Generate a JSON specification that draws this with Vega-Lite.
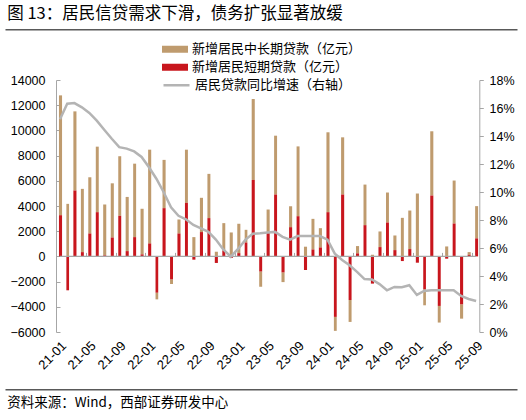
{
  "$schema": "https://vega.github.io/schema/vega-lite/v6.json",
  "width": 512,
  "height": 252,
  "autosize": {"type": "none"},
  "padding": {"left": 5, "top": 80, "right": 9, "bottom": 88},
  "background": "white",
  "config": {
    "view": {"stroke": null},
    "font": "Liberation Sans",
    "axis": {"grid": false, "labelColor": "#000000", "labelFont": "Liberation Sans"}
  },
  "data": {
    "values": [
      {"月份": "2021-01", "新增居民中长期贷款（亿元）": 9510, "新增居民短期贷款（亿元）": 3270, "增速": 15.2},
      {"月份": "2021-02", "新增居民中长期贷款（亿元）": 4170, "新增居民短期贷款（亿元）": -2690, "增速": 16.3},
      {"月份": "2021-03", "新增居民中长期贷款（亿元）": 6280, "新增居民短期贷款（亿元）": 5230, "增速": 16.35},
      {"月份": "2021-04", "新增居民中长期贷款（亿元）": 5020, "新增居民短期贷款（亿元）": 340, "增速": 16.05},
      {"月份": "2021-05", "新增居民中长期贷款（亿元）": 4460, "新增居民短期贷款（亿元）": 1820, "增速": 15.65},
      {"月份": "2021-06", "新增居民中长期贷款（亿元）": 5200, "新增居民短期贷款（亿元）": 3510, "增速": 15.1},
      {"月份": "2021-07", "新增居民中长期贷款（亿元）": 4040, "新增居民短期贷款（亿元）": 80, "增速": 14.45},
      {"月份": "2021-08", "新增居民中长期贷款（亿元）": 4300, "新增居民短期贷款（亿元）": 1500, "增速": 13.8},
      {"月份": "2021-09", "新增居民中长期贷款（亿元）": 4730, "新增居民短期贷款（亿元）": 3220, "增速": 13.2},
      {"月份": "2021-10", "新增居民中长期贷款（亿元）": 4300, "新增居民短期贷款（亿元）": 420, "增速": 13.1},
      {"月份": "2021-11", "新增居民中长期贷款（亿元）": 5830, "新增居民短期贷款（亿元）": 1530, "增速": 12.9},
      {"月份": "2021-12", "新增居民中长期贷款（亿元）": 3620, "新增居民短期贷款（亿元）": 160, "增速": 12.5},
      {"月份": "2022-01", "新增居民中长期贷款（亿元）": 7440, "新增居民短期贷款（亿元）": 1030, "增速": 11.75},
      {"月份": "2022-02", "新增居民中长期贷款（亿元）": -530, "新增居民短期贷款（亿元）": -2880, "增速": 10.95},
      {"月份": "2022-03", "新增居民中长期贷款（亿元）": 3830, "新增居民短期贷款（亿元）": 3830, "增速": 10.0},
      {"月份": "2022-04", "新增居民中长期贷款（亿元）": -370, "新增居民短期贷款（亿元）": -1820, "增速": 8.9},
      {"月份": "2022-05", "新增居民中长期贷款（亿元）": 1110, "新增居民短期贷款（亿元）": 1820, "增速": 8.3},
      {"月份": "2022-06", "新增居民中长期贷款（亿元）": 4220, "新增居民短期贷款（亿元）": 4250, "增速": 8.05},
      {"月份": "2022-07", "新增居民中长期贷款（亿元）": 1530, "新增居民短期贷款（亿元）": -260, "增速": 7.65},
      {"月份": "2022-08", "新增居民中长期贷款（亿元）": 2720, "新增居民短期贷款（亿元）": 1930, "增速": 7.4},
      {"月份": "2022-09", "新增居民中长期贷款（亿元）": 3510, "新增居民短期贷款（亿元）": 3040, "增速": 7.15},
      {"月份": "2022-10", "新增居民中长期贷款（亿元）": 370, "新增居民短期贷款（亿元）": -520, "增速": 6.6},
      {"月份": "2022-11", "新增居民中长期贷款（亿元）": 2170, "新增居民短期贷款（亿元）": 470, "增速": 5.9},
      {"月份": "2022-12", "新增居民中长期贷款（亿元）": 1900, "新增居民短期贷款（亿元）": -130, "增速": 5.38},
      {"月份": "2023-01", "新增居民中长期贷款（亿元）": 2330, "新增居民短期贷款（亿元）": 260, "增速": 5.95},
      {"月份": "2023-02", "新增居民中长期贷款（亿元）": 1010, "新增居民短期贷款（亿元）": 1100, "增速": 6.6},
      {"月份": "2023-03", "新增居民中长期贷款（亿元）": 6420, "新增居民短期贷款（亿元）": 6070, "增速": 7.02},
      {"月份": "2023-04", "新增居民中长期贷款（亿元）": -1210, "新增居民短期贷款（亿元）": -1190, "增速": 7.05},
      {"月份": "2023-05", "新增居民中长期贷款（亿元）": 1870, "新增居民短期贷款（亿元）": 1850, "增速": 7.1},
      {"月份": "2023-06", "新增居民中长期贷款（亿元）": 4670, "新增居民短期贷款（亿元）": 4910, "增速": 7.15},
      {"月份": "2023-07", "新增居民中长期贷款（亿元）": -770, "新增居民短期贷款（亿元）": -1270, "增速": 6.8},
      {"月份": "2023-08", "新增居民中长期贷款（亿元）": 1660, "新增居民短期贷款（亿元）": 2320, "增速": 6.6},
      {"月份": "2023-09", "新增居民中长期贷款（亿元）": 5540, "新增居民短期贷款（亿元）": 3190, "增速": 6.85},
      {"月份": "2023-10", "新增居民中长期贷款（亿元）": 770, "新增居民短期贷款（亿元）": -1080, "增速": 6.85},
      {"月份": "2023-11", "新增居民中长期贷款（亿元）": 2430, "新增居民短期贷款（亿元）": 550, "增速": 6.85},
      {"月份": "2023-12", "新增居民中长期贷款（亿元）": 1530, "新增居民短期贷款（亿元）": 710, "增速": 6.85},
      {"月份": "2024-01", "新增居民中长期贷款（亿元）": 6340, "新增居民短期贷款（亿元）": 3510, "增速": 6.6},
      {"月份": "2024-02", "新增居民中长期贷款（亿元）": -1110, "新增居民短期贷款（亿元）": -4800, "增速": 5.6},
      {"月份": "2024-03", "新增居民中长期贷款（亿元）": 4540, "新增居民短期贷款（亿元）": 4910, "增速": 5.15},
      {"月份": "2024-04", "新增居民中长期贷款（亿元）": -1740, "新增居民短期贷款（亿元）": -3460, "增速": 4.77},
      {"月份": "2024-05", "新增居民中长期贷款（亿元）": 580, "新增居民短期贷款（亿元）": 240, "增速": 4.3},
      {"月份": "2024-06", "新增居民中长期贷款（亿元）": 3220, "新增居民短期贷款（亿元）": 2480, "增速": 3.78},
      {"月份": "2024-07", "新增居民中长期贷款（亿元）": 130, "新增居民短期贷款（亿元）": -2160, "增速": 3.75},
      {"月份": "2024-08", "新增居民中长期贷款（亿元）": 1240, "新增居民短期贷款（亿元）": 740, "增速": 3.42},
      {"月份": "2024-09", "新增居民中长期贷款（亿元）": 2380, "新增居民短期贷款（亿元）": 2690, "增速": 2.98},
      {"月份": "2024-10", "新增居民中长期贷款（亿元）": 1160, "新增居民短期贷款（亿元）": 500, "增速": 3.22},
      {"月份": "2024-11", "新增居民中长期贷款（亿元）": 3060, "新增居民短期贷款（亿元）": -370, "增速": 3.2},
      {"月份": "2024-12", "新增居民中长期贷款（亿元）": 3060, "新增居民短期贷款（亿元）": 580, "增速": 3.34},
      {"月份": "2025-01", "新增居民中长期贷款（亿元）": 4990, "新增居民短期贷款（亿元）": -500, "增速": 2.65},
      {"月份": "2025-02", "新增居民中长期贷款（亿元）": -1270, "新增居民短期贷款（亿元）": -2610, "增速": 2.93},
      {"月份": "2025-03", "新增居民中长期贷款（亿元）": 5100, "新增居民短期贷款（亿元）": 4830, "增速": 2.98},
      {"月份": "2025-04", "新增居民中长期贷款（亿元）": -1320, "新增居民短期贷款（亿元）": -3930, "增速": 2.98},
      {"月份": "2025-05", "新增居民中长期贷款（亿元）": 790, "新增居民短期贷款（亿元）": -180, "增速": 2.98},
      {"月份": "2025-06", "新增居民中长期贷款（亿元）": 3410, "新增居民短期贷款（亿元）": 2610, "增速": 2.98},
      {"月份": "2025-07", "新增居民中长期贷款（亿元）": -1140, "新增居民短期贷款（亿元）": -3800, "增速": 2.57},
      {"月份": "2025-08", "新增居民中长期贷款（亿元）": 210, "新增居民短期贷款（亿元）": 130, "增速": 2.36},
      {"月份": "2025-09", "新增居民中长期贷款（亿元）": 2560, "新增居民短期贷款（亿元）": 1430, "增速": 2.22}
    ]
  },
  "layer": [
    {
      "transform": [
        {"fold": ["新增居民中长期贷款（亿元）", "新增居民短期贷款（亿元）"], "as": ["类别", "贷款"]}
      ],
      "mark": {"type": "bar", "width": {"band": 0.54}},
      "encoding": {
        "x": {
          "field": "月份",
          "type": "temporal",
          "timeUnit": "utcyearmonth",
          "scale": {
            "type": "utc",
            "domain": [
              {"year": 2020, "month": 6, "date": 5, "hours": 7, "utc": true},
              {"year": 2026, "month": 3, "date": 2, "hours": 9, "minutes": 24, "utc": true}
            ],
            "nice": false
          },
          "axis": {
            "orient": "bottom",
            "offset": 57.3,
            "values": [
              {"year": 2021, "month": 1, "date": 16, "utc": true},
              {"year": 2021, "month": 5, "date": 16, "utc": true},
              {"year": 2021, "month": 9, "date": 16, "utc": true},
              {"year": 2022, "month": 1, "date": 16, "utc": true},
              {"year": 2022, "month": 5, "date": 16, "utc": true},
              {"year": 2022, "month": 9, "date": 16, "utc": true},
              {"year": 2023, "month": 1, "date": 16, "utc": true},
              {"year": 2023, "month": 5, "date": 16, "utc": true},
              {"year": 2023, "month": 9, "date": 16, "utc": true},
              {"year": 2024, "month": 1, "date": 16, "utc": true},
              {"year": 2024, "month": 5, "date": 16, "utc": true},
              {"year": 2024, "month": 9, "date": 16, "utc": true},
              {"year": 2025, "month": 1, "date": 16, "utc": true},
              {"year": 2025, "month": 5, "date": 16, "utc": true},
              {"year": 2025, "month": 9, "date": 16, "utc": true}
            ],
            "labelExpr": "utcFormat(datum.value, '%y-%m')",
            "domain": true,
            "domainColor": "#595959",
            "domainWidth": 1.5,
            "ticks": false,
            "grid": false,
            "labelAngle": -45,
            "labelAlign": "right",
            "labelBaseline": "middle",
            "labelPadding": -46,
            "labelOffset": 4,
            "labelFontSize": 13,
            "labelOverlap": false,
            "labelFlush": false,
            "title": "资料来源：Wind，西部证券研发中心",
            "titleX": 1.7,
            "titleY": 13,
            "titleAlign": "left",
            "titleBaseline": "middle",
            "titleAnchor": "start",
            "titleAngle": 0,
            "titleFont": "Noto Sans CJK SC",
            "titleFontSize": 13.5,
            "titleFontWeight": "normal",
            "titleColor": "#000000"
          }
        },
        "y": {
          "field": "贷款",
          "type": "quantitative",
          "stack": "zero",
          "scale": {"domain": [-6000, 14000], "nice": false, "zero": false},
          "axis": {
            "orient": "left",
            "offset": -51,
            "values": [-6000, -4000, -2000, 0, 2000, 4000, 6000, 8000, 10000, 12000, 14000],
            "format": "d",
            "domainColor": "#a6a6a6",
            "tickColor": "#a6a6a6",
            "tickSize": -4,
            "labelPadding": 15,
            "labelFontSize": 12.5,
            "title": null
          }
        },
        "color": {
          "field": "类别",
          "type": "nominal",
          "scale": {
            "domain": ["新增居民中长期贷款（亿元）", "新增居民短期贷款（亿元）"],
            "range": ["#bf9b6e", "#c8161d"]
          },
          "legend": {
            "orient": "none",
            "legendX": 157,
            "legendY": -39.7,
            "title": null,
            "padding": 0,
            "symbolType": "M-1,-0.27H1V0.27H-1Z",
            "symbolSize": 676,
            "symbolStrokeWidth": 0,
            "clipHeight": 18,
            "rowPadding": 0,
            "labelOffset": 4,
            "labelFont": "Noto Sans CJK SC",
            "labelFontSize": 13,
            "labelColor": "#000000",
            "labelLimit": 300
          }
        },
        "order": {"field": "类别", "sort": "descending"}
      }
    },
    {
      "data": {"values": [{}]},
      "mark": {"type": "rule", "color": "#a6a6a6", "strokeWidth": 1.2},
      "encoding": {
        "x": {
          "datum": {"year": 2021, "month": 1, "date": 16, "hours": 12, "utc": true},
          "type": "temporal",
          "axis": {
            "orient": "bottom",
            "offset": -75.6,
            "values": [
              {"year": 2021, "month": 1, "date": 1, "utc": true},
              {"year": 2021, "month": 5, "date": 1, "utc": true},
              {"year": 2021, "month": 9, "date": 1, "utc": true},
              {"year": 2022, "month": 1, "date": 1, "utc": true},
              {"year": 2022, "month": 5, "date": 1, "utc": true},
              {"year": 2022, "month": 9, "date": 1, "utc": true},
              {"year": 2023, "month": 1, "date": 1, "utc": true},
              {"year": 2023, "month": 5, "date": 1, "utc": true},
              {"year": 2023, "month": 9, "date": 1, "utc": true},
              {"year": 2024, "month": 1, "date": 1, "utc": true},
              {"year": 2024, "month": 5, "date": 1, "utc": true},
              {"year": 2024, "month": 9, "date": 1, "utc": true},
              {"year": 2025, "month": 1, "date": 1, "utc": true},
              {"year": 2025, "month": 5, "date": 1, "utc": true},
              {"year": 2025, "month": 9, "date": 1, "utc": true}
            ],
            "domain": false,
            "labels": false,
            "grid": false,
            "ticks": true,
            "tickSize": -4,
            "tickColor": "#a6a6a6",
            "title": null
          }
        },
        "x2": {"datum": {"year": 2025, "month": 9, "date": 16, "utc": true}},
        "y": {
          "datum": 0,
          "type": "quantitative",
          "scale": {"domain": [-6000, 14000], "nice": false, "zero": false},
          "axis": null
        }
      }
    },
    {
      "mark": {"type": "line", "strokeWidth": 2.5},
      "encoding": {
        "x": {
          "field": "月份",
          "type": "temporal",
          "timeUnit": "utcyearmonth",
          "bandPosition": 0.5,
          "axis": {
            "orient": "top",
            "offset": 50.7,
            "domain": true,
            "domainColor": "#595959",
            "domainWidth": 1.5,
            "ticks": false,
            "labels": false,
            "grid": false,
            "title": "图 13：居民信贷需求下滑，债务扩张显著放缓",
            "titleX": 1.7,
            "titleY": -16.3,
            "titleAlign": "left",
            "titleBaseline": "middle",
            "titleAnchor": "start",
            "titleAngle": 0,
            "titleFont": "Noto Sans CJK SC",
            "titleFontSize": 16.5,
            "titleFontWeight": "normal",
            "titleColor": "#000000"
          }
        },
        "y": {
          "field": "增速",
          "type": "quantitative",
          "scale": {"domain": [0, 18], "nice": false},
          "axis": {
            "orient": "right",
            "offset": -37.7,
            "values": [0, 2, 4, 6, 8, 10, 12, 14, 16, 18],
            "labelExpr": "datum.value + '%'",
            "domainColor": "#a6a6a6",
            "tickColor": "#a6a6a6",
            "tickSize": 4,
            "labelPadding": 5.7,
            "labelFontSize": 12.5,
            "title": null
          }
        },
        "stroke": {
          "datum": "居民贷款同比增速（右轴）",
          "type": "nominal",
          "scale": {"range": ["#b4b4b4"]},
          "legend": {
            "orient": "none",
            "legendX": 157,
            "legendY": -3.7,
            "title": null,
            "padding": 0,
            "symbolType": "M-1,0H1",
            "symbolSize": 676,
            "symbolStrokeWidth": 2.5,
            "clipHeight": 18,
            "labelOffset": 4,
            "labelFont": "Noto Sans CJK SC",
            "labelFontSize": 13,
            "labelColor": "#000000",
            "labelLimit": 300
          }
        }
      }
    }
  ],
  "resolve": {
    "scale": {"y": "independent", "color": "independent", "stroke": "independent"},
    "axis": {"x": "independent", "y": "independent"}
  }
}
